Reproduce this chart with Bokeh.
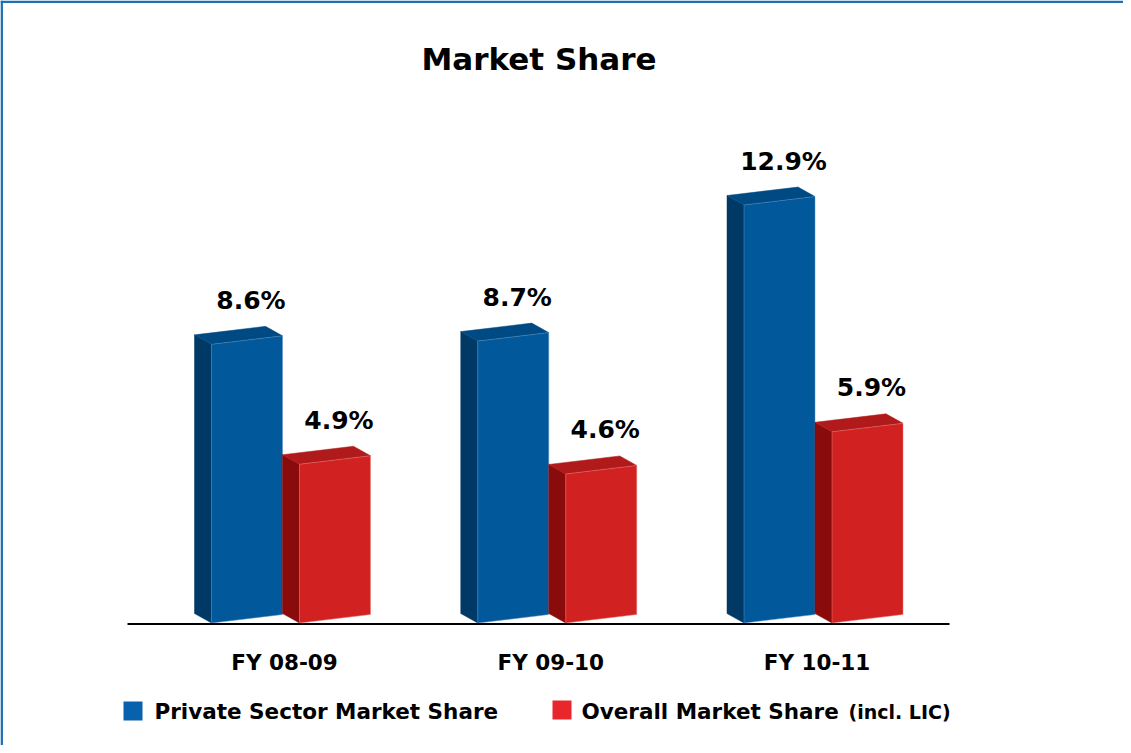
from bokeh.plotting import figure
from bokeh.models import Range1d
from bokeh.core.properties import value
from bokeh.embed import file_html
from bokeh.resources import INLINE

# ---------------- data ----------------
categories = ["FY 08-09", "FY 09-10", "FY 10-11"]
private_share = [8.6, 8.7, 12.9]
overall_share = [4.9, 4.6, 5.9]
series_names = ["Private Sector Market Share", "Overall Market Share"]
series_note = "(incl. LIC)"
chart_title = "Market Share"

# ---------------- layout ----------------
W, H = 1123, 745
PX_X = 266.25          # pixels per category step
PX_Y = 32.4            # pixels per percentage point
ORIGIN_X, ORIGIN_Y = 282.0, 622.5   # canvas px of (category 0, 0 %)

def dx(px):
    return px / PX_X

def dy(px):
    return px / PX_Y

def cx(px):
    return (px - ORIGIN_X) / PX_X

def cy(px):
    return (ORIGIN_Y - px) / PX_Y

FONT = value("DejaVu Sans")

BW = dx(71)     # front face width
DX = dx(17)     # depth offset (to the left)
DY = dy(9.5)    # depth offset (upward)
SK = dy(8.5)    # rise of front face right edge

BLUE = dict(front="#01589a", side="#003966", top="#004a84", edge="#5b8fc4")
RED = dict(front="#d12121", side="#8a0b0b", top="#b01a1b", edge="#e77a7a")

p = figure(width=W, height=H, output_backend="svg", toolbar_location=None,
           x_range=Range1d(cx(0), cx(W)), y_range=Range1d(cy(H), cy(0)),
           x_axis_location=None, y_axis_location=None,
           min_border=0, min_border_left=0, min_border_right=0,
           min_border_top=0, min_border_bottom=0)
p.grid.visible = False
p.outline_line_color = None
p.background_fill_color = "white"
p.border_fill_color = "white"

# border (top & left)
p.segment(x0=[cx(0), cx(1.2)], y0=[cy(1.2), cy(0)], x1=[cx(W), cx(1.2)], y1=[cy(1.2), cy(H)],
          line_color="#1f6fb3", line_width=2.5)

def add_bars(values, offset, colors):
    fx, fy, sx, sy, tx, ty = [], [], [], [], [], []
    for i, v in enumerate(values):
        x = i + offset
        fx.append([x, x + BW, x + BW, x])
        fy.append([0, SK, v + SK, v])
        sx.append([x - DX, x, x, x - DX])
        sy.append([DY, 0, v, v + DY])
        tx.append([x, x + BW, x + BW - DX, x - DX])
        ty.append([v, v + SK, v + SK + DY, v + DY])
    p.patches(sx, sy, fill_color=colors["side"], line_color=colors["side"], line_width=0.5)
    p.patches(tx, ty, fill_color=colors["top"], line_color=colors["top"], line_width=0.5)
    p.patches(fx, fy, fill_color=colors["front"], line_color=colors["edge"], line_width=0.7,
              line_alpha=0.7)
    p.text(x=[i + offset + BW / 2 + dx(4) for i in range(len(values))],
           y=[v + dy(44) for v in values],
           text=[f"{v:.1f}%" for v in values],
           text_font=FONT, text_font_style="bold", text_font_size="25px",
           text_color="black", text_align="center", text_baseline="middle")

add_bars(private_share, -dx(71), BLUE)
add_bars(overall_share, dx(17), RED)

# baseline
p.segment(x0=[cx(127)], y0=[dy(-1)], x1=[cx(949)], y1=[dy(-1)], line_color="black", line_width=2)

# category labels
p.text(x=[i + dx(2) for i in range(len(categories))], y=[dy(-39.5)] * len(categories),
       text=categories, text_font=FONT, text_font_style="bold", text_font_size="21.5px",
       text_color="black", text_align="center", text_baseline="middle")

# title
p.text(x=[cx(538.5)], y=[cy(58)], text=[chart_title], text_font=FONT, text_font_style="bold",
       text_font_size="31px", text_color="black", text_align="center", text_baseline="middle")

# legend
p.rect(x=[cx(132.5), cx(561.5)], y=[cy(710.5), cy(709.5)], width=19, height=19,
       width_units="screen", height_units="screen",
       fill_color=["#0861ad", "#e8262b"], line_color=None)
p.text(x=[cx(154), cx(581)], y=[cy(710.5), cy(710.5)], text=series_names,
       text_font=FONT, text_font_style="bold", text_font_size="21.5px",
       text_color="black", text_align="left", text_baseline="middle")
p.text(x=[cx(848)], y=[cy(711)], text=[series_note],
       text_font=FONT, text_font_style="bold", text_font_size="19px",
       text_color="black", text_align="left", text_baseline="middle")

open("out.html", "w").write(file_html(p, INLINE))
